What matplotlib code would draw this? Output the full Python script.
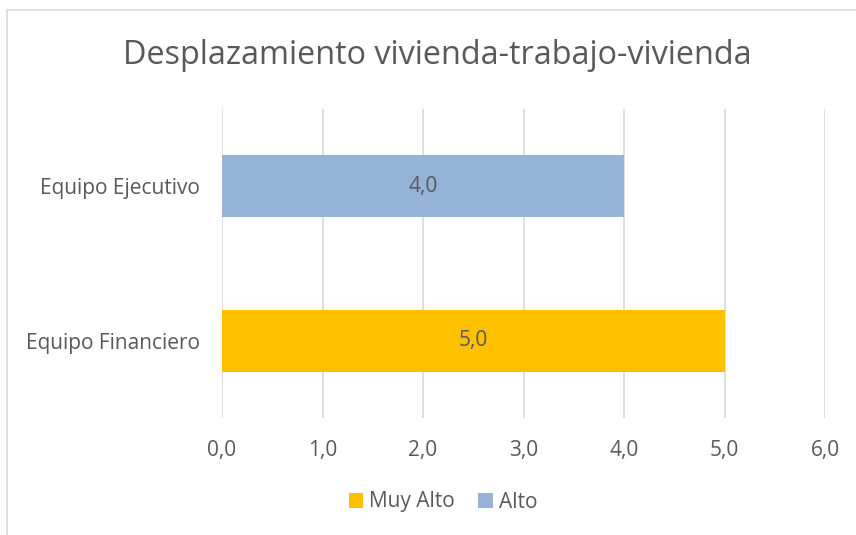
import matplotlib
matplotlib.use("Agg")
import matplotlib.pyplot as plt
from matplotlib.patches import Rectangle

categories = ["Equipo Financiero", "Equipo Ejecutivo"]
muy_alto = [5.0, 0.0]
alto = [0.0, 4.0]
xticks = [0, 1, 2, 3, 4, 5, 6]
title = "Desplazamiento vivienda-trabajo-vivienda"

plt.rcParams['font.family'] = ['Open Sans', 'DejaVu Sans']
txt = '#595959'
gold = '#FFC000'
blue = '#95B3D7'

fig = plt.figure(figsize=(8.56, 5.35), dpi=100)
fig.patches.append(Rectangle((7/856, -0.1), 1.2, (535-10)/535 + 0.1, transform=fig.transFigure,
                             fill=False, edgecolor='#D9D9D9', linewidth=1.2))
ax = fig.add_axes([222/856, 1 - 418/535, (825-222)/856, (418-109)/535])

y = list(range(len(categories)))
b1 = ax.barh(y, muy_alto, height=0.4, color=gold, label='Muy Alto', zorder=3)
b2 = ax.barh(y, alto, left=muy_alto, height=0.4, color=blue, label='Alto', zorder=3)
for bars, vals in ((b1, muy_alto), (b2, alto)):
    for rect, v in zip(bars, vals):
        if v:
            ax.text(rect.get_x() + rect.get_width()/2, rect.get_y() + rect.get_height()/2,
                    f"{v:.1f}".replace('.', ','), ha='center', va='center', color=txt, fontsize=15, zorder=4)

ax.set_xlim(0, 6)
ax.set_ylim(-0.5, 1.5)
ax.set_xticks(xticks)
ax.set_xticklabels([f"{t:.1f}".replace('.', ',') for t in xticks])
ax.set_yticks(y)
ax.set_yticklabels(categories)
ax.tick_params(axis='both', length=0, labelsize=15, labelcolor=txt)
ax.tick_params(axis='x', pad=16)
ax.tick_params(axis='y', pad=16)
ax.grid(axis='x', color='#D9D9D9', linewidth=1.2, zorder=0)
for s in ax.spines.values():
    s.set_visible(False)

fig.text(437/856, 1 - 55/535, title, ha='center', va='center', fontsize=23.3, color=txt)
fig.legend(handles=[b1, b2], labels=['Muy Alto', 'Alto'], loc='center', bbox_to_anchor=(443/856, 1 - 502/535),
           ncol=2, frameon=False, fontsize=15, labelcolor=txt, handlelength=0.7, handleheight=0.7,
           handletextpad=0.3, columnspacing=1.1)

fig.savefig("out.png", dpi=100)
